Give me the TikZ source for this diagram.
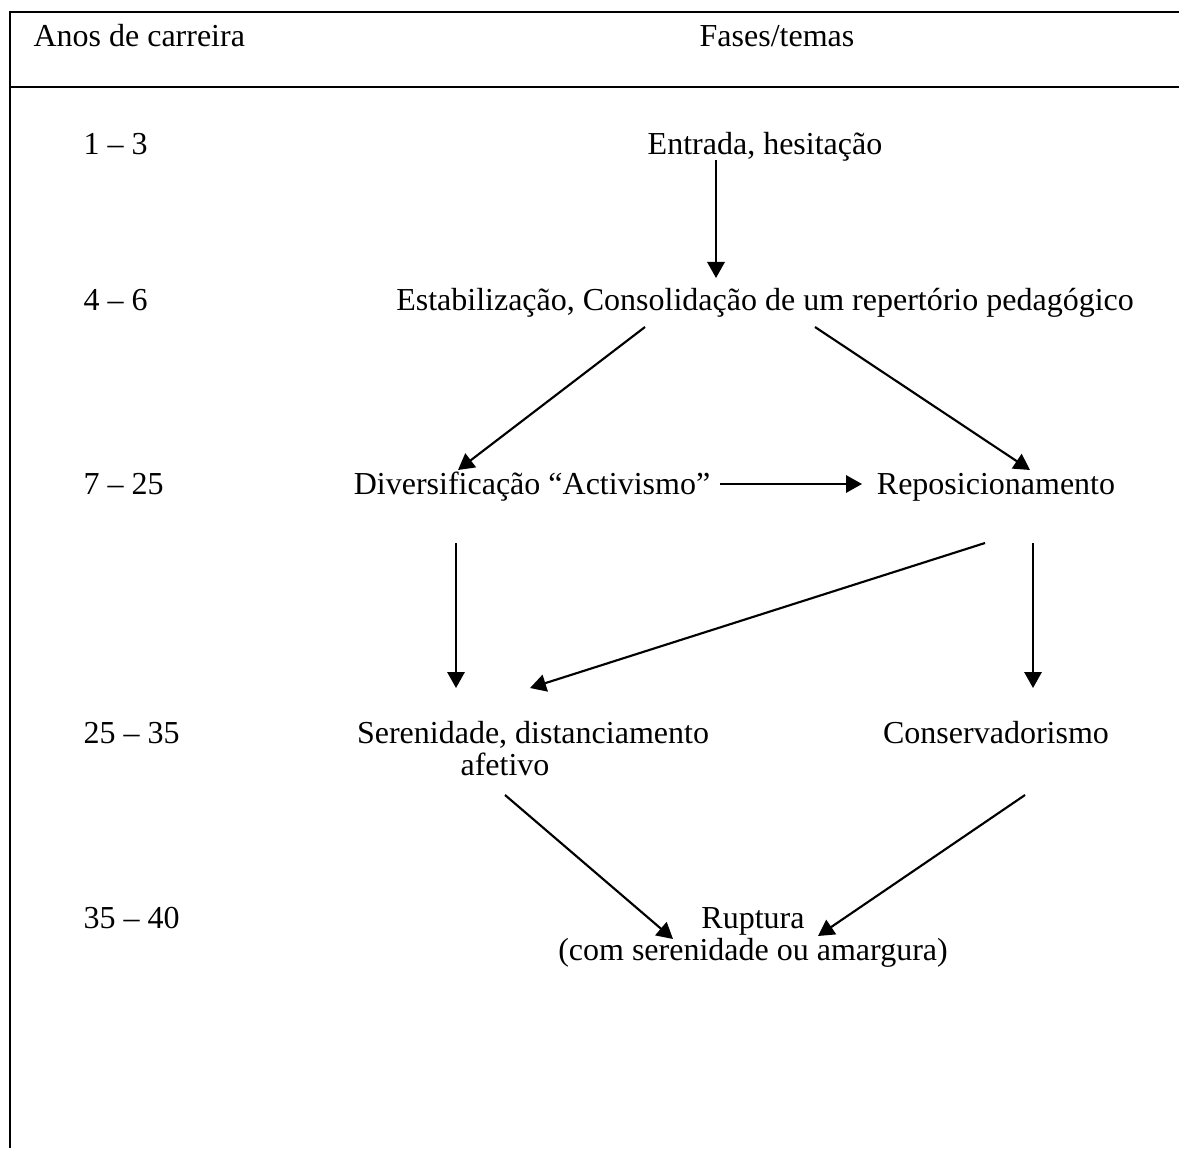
\documentclass[tikz,border=0pt]{standalone}
\usepackage{fontspec}
\setmainfont{Liberation Serif}
\usetikzlibrary{arrows.meta,calc}

\tikzset{
  fase/.style={anchor=base, inner sep=0pt, align=center, font=\fontsize{12}{12}\selectfont},
  ano/.style={anchor=base west, inner sep=0pt, font=\fontsize{12}{12}\selectfont},
  seta/.style={line width=0.8pt, -{Triangle[length=6pt,width=6.5pt]}},
  grade/.style={line width=0.75pt}
}

\begin{document}
\begin{tikzpicture}[x=0.375pt,y=0.375pt,yscale=-1,xscale=1]
		\useasboundingbox (0,0) rectangle (1179,1148);
		% table lines
		\draw [grade] (10,1148) -- (10,12) -- (1179,12) ;
		\draw [grade] (10,87) -- (1179,87) ;
		% header
		\node [ano] (anos) at (33,47) {Anos de carreira};
		\node [fase] (fases) at (777,47) {Fases/temas};
		% years
		\node [ano] (a1) at (83,155) {1 – 3};
		\node [ano] (a2) at (83,310) {4 – 6};
		\node [ano] (a3) at (83,494) {7 – 25};
		\node [ano] (a4) at (83,743) {25 – 35};
		\node [ano] (a5) at (83,928) {35 – 40};
		% phases (two-line nodes sit on their last line)
		\node [fase] (ent) at (765,155) {Entrada, hesitação};
		\node [fase] (est) at (765,310) {Estabilização, Consolidação de um repertório pedagógico};
		\node [fase] (div) at (532,494) {Diversificação “Activismo”};
		\node [fase] (rep) at (996,494) {Reposicionamento};
		\node [fase] (ser) at (533,775) {Serenidade, distanciamento\\ afetivo\hspace*{21pt}};
		\node [fase] (con) at (996,743) {Conservadorismo};
		\node [fase] (rup) at (753,960) {Ruptura\\ (com serenidade ou amargura)};
		% arrows
		\draw [seta] ($(ent.base)+(-49,5)$) -- ($(est.base)+(-49,-32)$) ;
		\draw [seta] ($(est.base)+(-120,17)$) -- ($(div.base)+(-74,-24)$) ;
		\draw [seta] ($(est.base)+(50,17)$) -- ($(rep.base)+(34,-24)$) ;
		\draw [seta] ($(div.base)+(188,-10)$) -- ($(rep.base)+(-134,-10)$) ;
		\draw [seta] ($(div.base)+(-76,49)$) -- ($(ser.base)+(-77,-87)$) ;
		\draw [seta] ($(rep.base)+(-11,49)$) -- ($(ser.base)+(-3,-87)$) ;
		\draw [seta] ($(rep.base)+(37,49)$) -- ($(con.base)+(37,-55)$) ;
		\draw [seta] ($(ser.base)+(-28,20)$) -- ($(rup.base)+(-80,-21)$) ;
		\draw [seta] ($(con.base)+(29,52)$) -- ($(rup.base)+(65,-24)$) ;
\end{tikzpicture}
\end{document}
